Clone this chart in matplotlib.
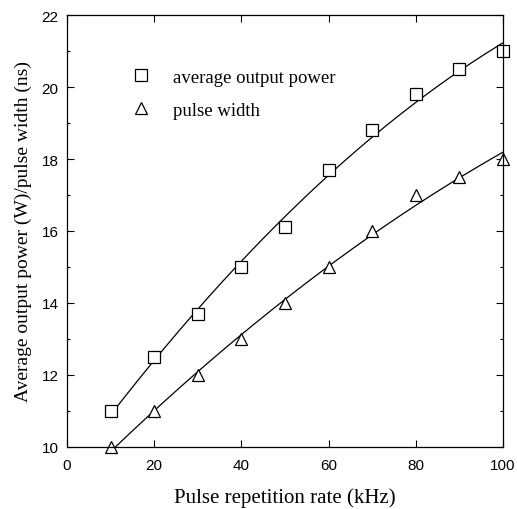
import numpy as np
import matplotlib
matplotlib.use("Agg")
import matplotlib.pyplot as plt
from matplotlib.ticker import MultipleLocator

# data
rate_khz = [10, 20, 30, 40, 50, 60, 70, 80, 90, 100]
avg_power_w = [11.0, 12.5, 13.7, 15.0, 16.1, 17.7, 18.8, 19.8, 20.5, 21.0]
pulse_width_ns = [10.0, 11.0, 12.0, 13.0, 14.0, 15.0, 16.0, 17.0, 17.5, 18.0]

serif = ["Liberation Serif", "DejaVu Serif"]
sans = ["Liberation Sans", "DejaVu Sans"]

fig = plt.figure(figsize=(5.17, 5.10), dpi=100)
ax = fig.add_axes([0.1296, 0.1216, 0.8434, 0.847])

# quadratic fits through the measured points
xs = np.linspace(10, 100, 200)
p_fit = np.polyfit(rate_khz, avg_power_w, 2)
w_fit = np.polyfit(rate_khz, pulse_width_ns, 2)
ax.plot(xs, np.polyval(p_fit, xs), color="black", lw=0.9)
ax.plot(xs, np.polyval(w_fit, xs), color="black", lw=0.9)

ax.plot(rate_khz, avg_power_w, ls="none", marker="s", ms=8.5, mfc="white",
        mec="black", mew=0.9, label="average output power", clip_on=False)
ax.plot(rate_khz, pulse_width_ns, ls="none", marker="^", ms=9, mfc="white",
        mec="black", mew=0.9, label="pulse width", clip_on=False)

ax.set_xlim(0, 100)
ax.set_ylim(10, 22)
ax.xaxis.set_major_locator(MultipleLocator(20))
ax.yaxis.set_major_locator(MultipleLocator(2))
ax.yaxis.set_minor_locator(MultipleLocator(1))
ax.tick_params(which="both", direction="in", top=True, right=True)
ax.tick_params(which="major", length=5, width=0.8, labelsize=11)
ax.tick_params(axis="x", which="major", pad=8)
ax.tick_params(axis="y", which="major", pad=6)
ax.tick_params(which="minor", length=2.5, width=0.8)
for lab in ax.get_xticklabels() + ax.get_yticklabels():
    lab.set_family(sans)
for s in ax.spines.values():
    s.set_linewidth(0.9)

ax.set_xlabel("Pulse repetition rate (kHz)", family=serif, fontsize=15, labelpad=11)
ax.set_ylabel("Average output power (W)/pulse width (ns)", family=serif,
              fontsize=14, labelpad=7)

leg = ax.legend(loc="upper left", bbox_to_anchor=(0.11, 0.915), frameon=False,
                prop={"family": serif, "size": 13.5}, handletextpad=1.2,
                labelspacing=0.85, handlelength=1.0)

fig.savefig("out.png", dpi=100)
